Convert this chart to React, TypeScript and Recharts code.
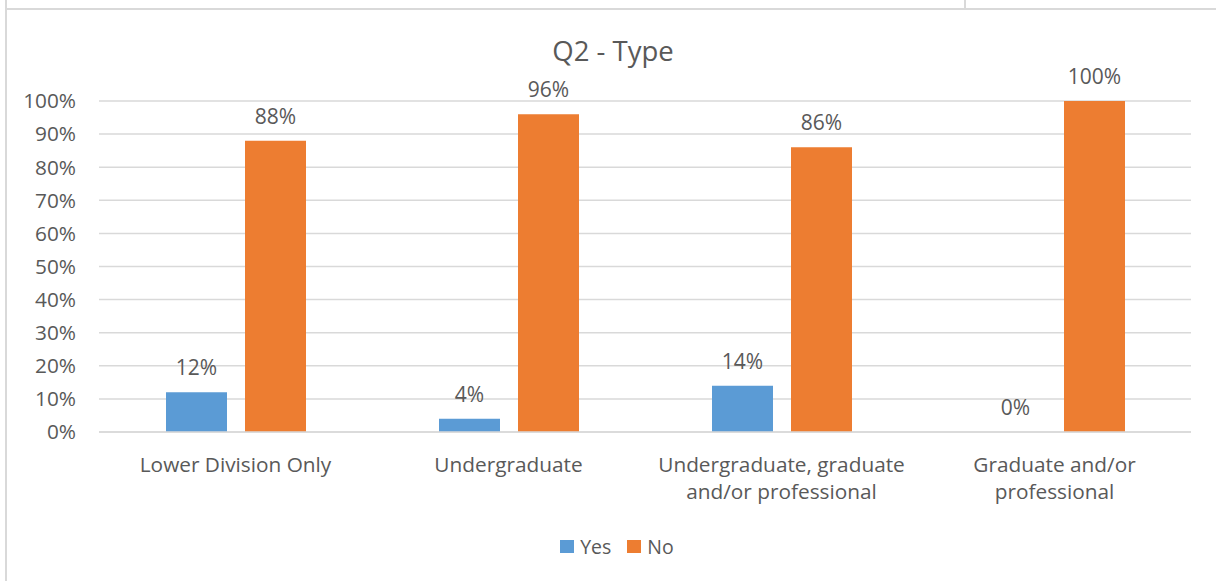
import React from "react";
import { BarChart, Bar, XAxis, YAxis, CartesianGrid, LabelList } from "recharts";

const categories = [
  "Lower Division Only",
  "Undergraduate",
  "Undergraduate, graduate\nand/or professional",
  "Graduate and/or\nprofessional",
];
const yesValues = [12, 4, 14, 0];
const noValues = [88, 96, 86, 100];
const yTicks = [0, 10, 20, 30, 40, 50, 60, 70, 80, 90, 100];
const seriesNames = ["Yes", "No"];
const seriesColors = ["#5B9BD5", "#ED7D31"];

const data = categories.map((c, i) => ({ name: c, yes: yesValues[i], no: noValues[i] }));

const FONT = "'Open Sans', sans-serif";
const TXT = "#595959";
const FS = 20.8;

const CategoryTick = (props: any) => {
  const { x, y, payload } = props;
  const lines = String(payload.value).split("\n");
  return (
    <g transform={`translate(${x},${y})`}>
      <text textAnchor="middle" fill={TXT} fontFamily={FONT} fontSize={FS}>
        {lines.map((l, i) => (
          <tspan key={i} x={0} y={40 + i * 26.5}>
            {l}
          </tspan>
        ))}
      </text>
    </g>
  );
};

const minSize = (v: any) => (v === 0 ? 0.01 : 0);

export default function App() {
  return (
    <div style={{ position: "absolute", left: 0, top: 0, width: 1216, height: 581, background: "#fff", overflow: "hidden" }}>
      <div style={{ position: "absolute", left: 5, top: 0, width: 2, height: 581, background: "#D9D9D9" }} />
      <div style={{ position: "absolute", left: 5, top: 8, width: 1211, height: 2, background: "#D9D9D9" }} />
      <div style={{ position: "absolute", left: 964, top: 0, width: 2, height: 9, background: "#D9D9D9" }} />
      <svg style={{ position: "absolute", left: 0, top: 0 }} width={1216} height={80}>
        <text x={613} y={61} textAnchor="middle" fill={TXT} fontFamily={FONT} fontSize={27.5}>
          Q2 - Type
        </text>
      </svg>
      <div style={{ position: "absolute", left: 0, top: 0 }}>
        <BarChart
          width={1216}
          height={581}
          data={data}
          margin={{ top: 101, right: 25, bottom: 119, left: 0 }}
          barGap={18}
          barSize={61}
        >
          <CartesianGrid vertical={false} stroke="#D9D9D9" strokeWidth={1.5} />
          <XAxis
            dataKey="name"
            height={30}
            axisLine={{ stroke: "#D9D9D9", strokeWidth: 1.5 }}
            tickLine={false}
            tickSize={0}
            tickMargin={0}
            tick={<CategoryTick />}
            interval={0}
          />
          <YAxis
            width={99}
            domain={[0, 100]}
            ticks={yTicks}
            interval={0}
            tickFormatter={(v: number) => `${v}%`}
            axisLine={false}
            tickLine={false}
            tickSize={0}
            tickMargin={23}
            tick={{ fill: TXT, fontFamily: FONT, fontSize: FS }}
          />
          <Bar dataKey="yes" name={seriesNames[0]} fill={seriesColors[0]} minPointSize={minSize} isAnimationActive={false}>
            <LabelList
              dataKey="yes"
              position="top"
              offset={17}
              formatter={(v: any) => `${v}%`}
              style={{ fill: TXT, fontFamily: FONT, fontSize: 21 }}
            />
          </Bar>
          <Bar dataKey="no" name={seriesNames[1]} fill={seriesColors[1]} minPointSize={minSize} isAnimationActive={false}>
            <LabelList
              dataKey="no"
              position="top"
              offset={17}
              formatter={(v: any) => `${v}%`}
              style={{ fill: TXT, fontFamily: FONT, fontSize: 21 }}
            />
          </Bar>
        </BarChart>
      </div>
      <div
        style={{
          position: "absolute",
          left: 0,
          top: 533,
          width: 1216,
          display: "flex",
          justifyContent: "center",
          alignItems: "center",
          fontFamily: FONT,
          fontSize: 19.5,
          color: TXT,
          paddingLeft: 18,
          boxSizing: "border-box",
        }}
      >
        {seriesNames.map((n, i) => (
          <div key={n} style={{ display: "flex", alignItems: "center", marginLeft: i === 0 ? 0 : 16 }}>
            <span style={{ display: "inline-block", width: 14, height: 13, background: seriesColors[i], marginRight: 6 }} />
            <span>{n}</span>
          </div>
        ))}
      </div>
    </div>
  );
}
